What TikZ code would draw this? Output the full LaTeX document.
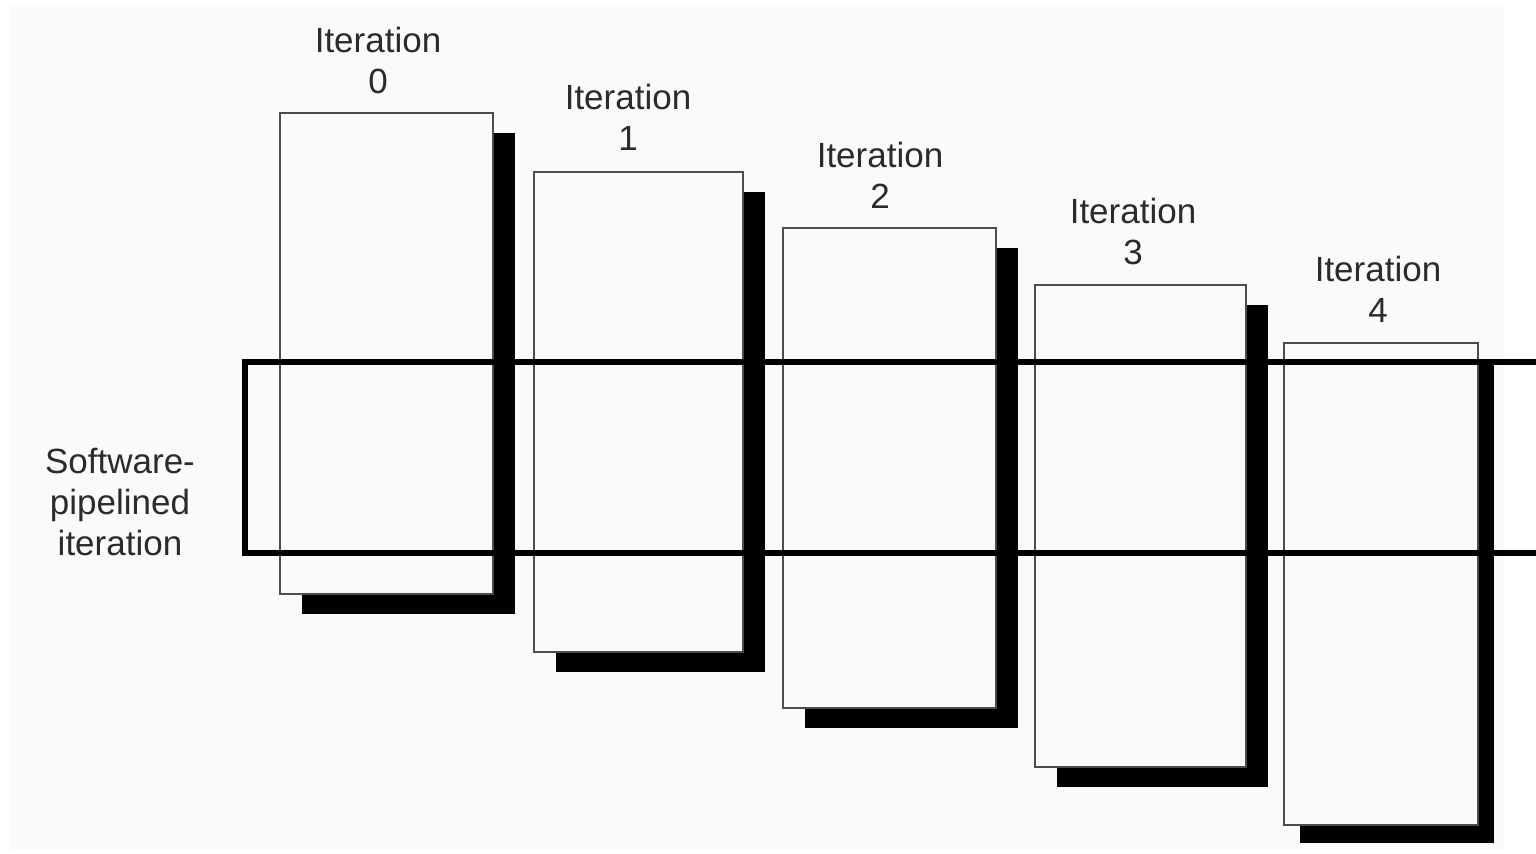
\documentclass[tikz,border=0pt]{standalone}
\usepackage{fontspec}
\setmainfont{Liberation Sans}
\usetikzlibrary{shadows}
\definecolor{paper}{HTML}{FAFAFA}
\definecolor{ink}{HTML}{2B2B2B}
\begin{document}
\begin{tikzpicture}[x=0.5pt,y=-0.5pt,
  itbox/.style={draw=black!70, line width=0.8pt, fill=paper, inner sep=0pt},
  solidshadow/.style 2 args={general shadow={fill=black,
    shadow xshift=#1, shadow yshift=#2}},
  itlabel/.style={text=ink, align=center, inner sep=0pt,
    font=\fontsize{17.5}{20.5}\selectfont},
  band/.style={draw=black, line width=3pt, line join=miter}]
  % canvas and paper sheet
  \useasboundingbox (0,0) rectangle (1536,854);
  \fill[white] (0,0) rectangle (1536,854);
  \fill[paper] (10,5) rectangle (1504,850);

  % iteration boxes with drop shadows
  \node[itbox, solidshadow={11pt}{-10pt}, minimum width=106.5pt, minimum height=240.5pt] (b0) at (386.5,353.5) {};
  \node[itbox, solidshadow={11pt}{-10pt}, minimum width=104.5pt, minimum height=240pt]   (b1) at (638.5,412) {};
  \node[itbox, solidshadow={11pt}{-10pt}, minimum width=106.5pt, minimum height=240pt]   (b2) at (889.5,468) {};
  \node[itbox, solidshadow={11pt}{-10pt}, minimum width=105.5pt, minimum height=241pt]   (b3) at (1140.5,526) {};
  \node[itbox, solidshadow={8pt}{-9pt},   minimum width=97pt,    minimum height=241pt]   (b4) at (1381,584) {};

  % iteration labels
  \node[itlabel] (l0) at (378,60)  {Iteration\\0};
  \node[itlabel] (l1) at (628,117) {Iteration\\1};
  \node[itlabel] (l2) at (880,175) {Iteration\\2};
  \node[itlabel] (l3) at (1133,231) {Iteration\\3};
  \node[itlabel] (l4) at (1378,289) {Iteration\\4};

  % software-pipelined band
  \node[itlabel] (sp) at (120,502) {Software-\\pipelined\\iteration};
  \coordinate (bandTR) at (1540,362);
  \coordinate (bandTL) at (245,362);
  \coordinate (bandBL) at (245,553);
  \coordinate (bandBR) at (1540,553);
  \draw[band] (bandTR) -- (bandTL) -- (bandBL) -- (bandBR);
\end{tikzpicture}
\end{document}
